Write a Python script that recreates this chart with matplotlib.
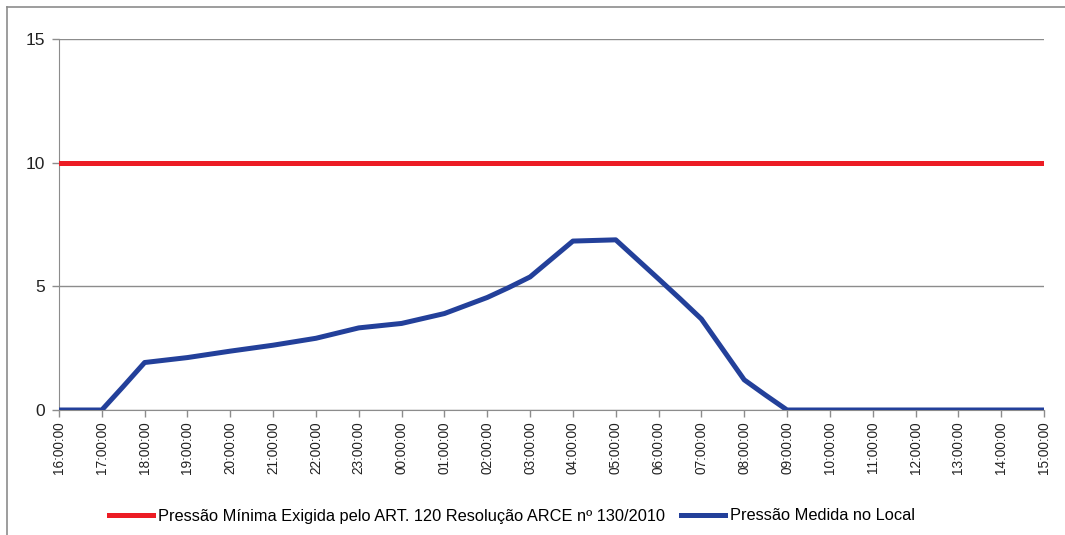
import numpy as np
import matplotlib.pyplot as plt
from matplotlib.lines import Line2D

plt.rcParams['font.family'] = ['Liberation Sans', 'DejaVu Sans']

# horas desde 16:00
rotulos = ["16:00:00", "17:00:00", "18:00:00", "19:00:00", "20:00:00", "21:00:00",
           "22:00:00", "23:00:00", "00:00:00", "01:00:00", "02:00:00", "03:00:00",
           "04:00:00", "05:00:00", "06:00:00", "07:00:00", "08:00:00", "09:00:00",
           "10:00:00", "11:00:00", "12:00:00", "13:00:00", "14:00:00", "15:00:00"]
horas = [0, 1, 1.5, 2, 3, 4, 5, 6, 7, 8, 9, 10, 10.5, 11, 12, 13, 14, 14.5, 15, 16, 16.5, 17,
         18, 19, 20, 21, 22, 23]
pressao = [0, 0, 0.95, 1.92, 2.12, 2.38, 2.62, 2.9, 3.32, 3.5, 3.9, 4.55, 4.95, 5.38, 6.83, 6.88,
           5.3, 4.5, 3.68, 1.22, 0.6, 0,
           0, 0, 0, 0, 0, 0]
minimo = 10
titulo_min = "Pressão Mínima Exigida pelo ART. 120 Resolução ARCE nº 130/2010"
titulo_med = "Pressão Medida no Local"

vermelho = "#EC1C24"
azul = "#23409A"
cinza = "#8C8C8C"

fig = plt.figure(figsize=(10.65, 5.35), dpi=100)
ax = fig.add_axes([59/1065, 1-410/535, 985/1065, 371/535])

ax.axhline(minimo, color=vermelho, lw=3.6, zorder=3)
ax.plot(horas, pressao, color=azul, lw=3.6, zorder=4, solid_capstyle='butt')

ax.set_xlim(0, 23)
ax.set_ylim(0, 15)
ax.set_yticks([0, 5, 10, 15])
ax.set_xticks(range(len(rotulos)))
ax.set_xticklabels(rotulos, rotation=90, fontsize=9.8, color="#222222")
ax.tick_params(axis='y', labelsize=12.5, length=5, color=cinza, width=1, pad=5, labelcolor="#222222")
ax.tick_params(axis='x', length=5, color=cinza, width=1, pad=3)
ax.grid(axis='y', color=cinza, lw=1)
for s in ['top', 'right']:
    ax.spines[s].set_visible(False)
ax.spines['left'].set_color(cinza)
ax.spines['bottom'].set_color(cinza)
ax.set_axisbelow(True)

h = [Line2D([], [], color=vermelho, lw=3.6), Line2D([], [], color=azul, lw=3.6)]
fig.legend(h, [titulo_min, titulo_med], loc='center', bbox_to_anchor=(512/1065, 1-516/535),
           ncol=2, frameon=False, fontsize=11.8, handlelength=2.7, handletextpad=0.3,
           columnspacing=1.0)

# moldura parcial
fig.add_artist(Line2D([7/1065, 1], [1-7/535, 1-7/535], color=cinza, lw=1.2))
fig.add_artist(Line2D([7/1065, 7/1065], [0, 1-7/535], color=cinza, lw=1.2))

fig.savefig("out.png", dpi=100)
